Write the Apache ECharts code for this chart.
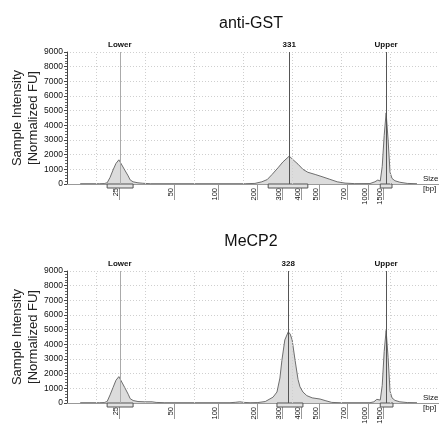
<!DOCTYPE html>
<html>
<head>
<meta charset="utf-8">
<script src="https://cdn.jsdelivr.net/npm/echarts@6/dist/echarts.min.js"></script>
<style>
	html, body { margin: 0; padding: 0; background: #fff; }
	#chart { width: 439px; height: 424px; }
</style>
</head>
<body>
<div id="chart"></div>
<script>
// ladder sizes (bp) and where they sit on the migration axis
var ladderBp   = ['25', '50', '100', '200', '300', '400', '500', '700', '1000', '1500'];
var ladderTime = [24.6, 35.9, 44.9, 52.8, 57.9, 61.8, 65.5, 71.2, 75.5, 78.6];
var gridTime   = [20, 30, 40, 50, 60, 70, 80];

// anti-GST trace
var gstTime = [16.7, 20.7, 21.6, 22.2, 22.8, 23.4, 24.0, 24.6, 25.0, 25.8, 26.5, 26.9, 27.5, 28.5, 29.5, 31.0,
	50.4, 52.4, 53.8, 54.9, 55.9, 57.1, 58.1, 59.4, 60.2, 61.2, 62.2, 63.2, 64.7, 66.1, 67.7, 69.2, 70.8, 72.8,
	75.9, 76.9, 77.5, 78.0, 78.4, 78.8, 79.2, 79.6, 80.0, 80.4, 81.0, 82.0, 83.5, 85.5];
var gstFU = [20, 20, 30, 80, 450, 950, 1400, 1650, 1550, 950, 550, 280, 150, 80, 50, 20,
	20, 40, 150, 300, 650, 1100, 1500, 1900, 1650, 1350, 1000, 800, 650, 500, 320, 150, 60, 25,
	30, 150, 270, 200, 1200, 3300, 4850, 3000, 800, 380, 220, 120, 40, 20];
var gstPeakName = ['Lower', '331', 'Upper'];
var gstPeakTime = [24.8, 59.4, 79.2];
var gstRegion   = [[22.2, 27.5], [55.1, 63.2], [78.0, 80.4]];

// MeCP2 trace
var mecpTime = [16.7, 20.7, 21.6, 22.2, 22.8, 23.4, 24.0, 24.6, 25.0, 25.8, 26.5, 26.9, 27.5, 28.5, 29.9, 31.4, 32.2, 34.0,
	47.3, 48.5, 49.3, 50.2, 51.4, 53.0, 54.5, 56.1, 56.9, 57.5, 57.9, 58.5, 59.2, 59.6, 60.0, 60.6, 61.2, 61.6, 62.2,
	63.0, 64.1, 65.7, 66.9, 68.1, 69.8,
	75.9, 76.7, 77.3, 78.0, 78.4, 78.8, 79.2, 79.6, 80.0, 80.4, 81.0, 82.0, 83.5, 85.5];
var mecpFU = [20, 20, 30, 100, 550, 1050, 1550, 1800, 1700, 1050, 600, 300, 170, 100, 80, 80, 40, 20,
	20, 50, 80, 40, 20, 30, 100, 400, 750, 1700, 2900, 4300, 4850, 4700, 4300, 2900, 1600, 1100, 750,
	500, 350, 270, 150, 40, 20,
	20, 80, 250, 200, 1200, 3500, 4950, 3100, 800, 350, 180, 80, 30, 20];
var mecpPeakName = ['Lower', '328', 'Upper'];
var mecpPeakTime = [24.8, 59.2, 79.2];
var mecpRegion   = [[22.2, 27.5], [56.9, 62.2], [78.0, 80.6]];

var FONT = '"Liberation Sans", Arial, sans-serif';
var LABEL_SHIFT = 0.7; // rotated size label sits just left of its tick

/**
 * 把两列数组拼成点
 */
function zip(xs, ys) {
	var out = [];
	for (var i = 0; i < xs.length; i++) {
		out.push([xs[i], ys[i]]);
	}
	return out;
}

/**
 * 一个面板的坐标轴
 */
function makeAxes(idx) {
	var xAxis = {
		gridIndex: idx,
		type: 'value',
		min: 14,
		max: 90,
		name: 'Size\n[bp]',
		nameLocation: 'end',
		nameGap: -16,
		nameMoveOverlap: false,
		nameTextStyle: { fontFamily: FONT, fontSize: 8, lineHeight: 10, color: '#111', align: 'left', padding: [32, 0, 0, 0] },
		axisLine: { lineStyle: { color: '#999', width: 1 } },
		axisTick: { show: true, length: 16, inside: false, customValues: ladderTime, lineStyle: { color: '#999' } },
		axisLabel: {
			rotate: 90,
			margin: 4,
			fontFamily: FONT,
			fontSize: 7.5,
			color: '#111',
			customValues: ladderTime.map(function (t) { return t - LABEL_SHIFT; }),
			formatter: function (v) {
				for (var i = 0; i < ladderTime.length; i++) {
					if (Math.abs(ladderTime[i] - LABEL_SHIFT - v) < 0.01) return ladderBp[i];
				}
				return '';
			}
		},
		splitLine: { show: false }
	};
	var yAxis = {
		gridIndex: idx,
		type: 'value',
		min: 0,
		max: 9000,
		interval: 1000,
		name: 'Sample Intensity\n[Normalized FU]',
		nameLocation: 'middle',
		nameGap: 26,
		nameMoveOverlap: false,
		nameTextStyle: { fontFamily: FONT, fontSize: 13, lineHeight: 16, color: '#222' },
		axisLine: { show: true, lineStyle: { color: '#444', width: 1 } },
		axisTick: { show: true, length: 3, lineStyle: { color: '#444' } },
		minorTick: { show: true, splitNumber: 5, length: 2, lineStyle: { color: '#666' } },
		axisLabel: {
			fontFamily: FONT, fontSize: 8.5, color: '#111', margin: 4,
			formatter: function (v) { return String(v); }
		},
		splitLine: { show: true, lineStyle: { color: '#cfcfcf', type: [1, 2], width: 1 } }
	};
	return { x: xAxis, y: yAxis };
}

/**
 * 一个面板的系列：竖向网格、峰面积、峰标记、积分区域
 */
function makeSeries(idx, time, fu, peakName, peakTime, region) {
	var gridLines = gridTime.map(function (t) { return { xAxis: t }; });
	var markers = peakName.map(function (n, i) {
		return {
			xAxis: peakTime[i],
			name: n,
			lineStyle: { color: n === 'Lower' ? '#aaa' : '#555', width: 1, type: 'solid' }
		};
	});
	return [{
		type: 'line',
		xAxisIndex: idx,
		yAxisIndex: idx,
		data: [],
		z: 1,
		silent: true,
		markLine: {
			silent: true,
			symbol: 'none',
			animation: false,
			label: { show: false },
			lineStyle: { color: '#cfcfcf', type: [1, 2], width: 1 },
			data: gridLines
		}
	}, {
		type: 'line',
		xAxisIndex: idx,
		yAxisIndex: idx,
		data: zip(time, fu),
		z: 3,
		symbol: 'none',
		smooth: false,
		lineStyle: { color: '#6e6e6e', width: 1 },
		areaStyle: { color: '#dcdcdc', opacity: 1 },
		markLine: {
			silent: true,
			symbol: 'none',
			animation: false,
			label: {
				show: true,
				position: 'end',
				distance: 3,
				formatter: '{b}',
				fontFamily: FONT,
				fontSize: 8,
				fontWeight: 'bold',
				color: '#111'
			},
			data: markers
		}
	}, {
		type: 'custom',
		xAxisIndex: idx,
		yAxisIndex: idx,
		z: 4,
		silent: true,
		clip: false,
		data: region,
		renderItem: function (params, api) {
			var a = api.coord([api.value(0), 0]);
			var b = api.coord([api.value(1), 0]);
			return {
				type: 'rect',
				shape: { x: a[0], y: a[1], width: b[0] - a[0], height: 4 },
				style: { fill: '#e2e2e2', stroke: '#555', lineWidth: 1 }
			};
		}
	}];
}

/**
 * 生成图表
 */
function initChart() {
	var myChart = echarts.init(document.getElementById('chart'), null, { renderer: 'canvas' });
	var a0 = makeAxes(0);
	var a1 = makeAxes(1);
	var option = {
		animation: false,
		backgroundColor: '#fff',
		title: [
			{ text: 'anti-GST', left: 246, top: 11, textAlign: 'center', textStyle: { fontFamily: FONT, fontSize: 16, fontWeight: 'normal', color: '#111' } },
			{ text: 'MeCP2', left: 246, top: 229, textAlign: 'center', textStyle: { fontFamily: FONT, fontSize: 16, fontWeight: 'normal', color: '#111' } }
		],
		grid: [
			{ left: 67, right: 0, top: 52, height: 132, outerBoundsMode: 'none', containLabel: false },
			{ left: 67, right: 0, top: 271, height: 132, outerBoundsMode: 'none', containLabel: false }
		],
		xAxis: [a0.x, a1.x],
		yAxis: [a0.y, a1.y],
		series: makeSeries(0, gstTime, gstFU, gstPeakName, gstPeakTime, gstRegion)
			.concat(makeSeries(1, mecpTime, mecpFU, mecpPeakName, mecpPeakTime, mecpRegion))
	};
	myChart.setOption(option);
}

initChart();
</script>
</body>
</html>
